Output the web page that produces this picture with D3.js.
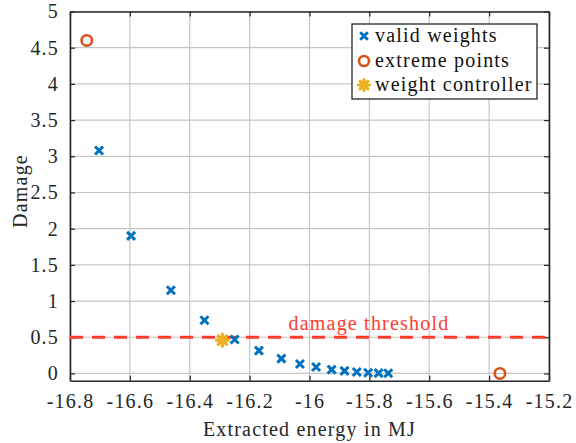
<!DOCTYPE html>
<html>
<head>
<meta charset="utf-8">
<script src="https://cdn.jsdelivr.net/npm/d3@7"></script>
<style>
  html, body { margin: 0; padding: 0; background: #fff; }
</style>
</head>
<body>
<svg id="chart" width="576" height="443"></svg>
<script>
// Pareto front of energy vs. damage for the valid weight combinations
const validEnergy = [-16.703, -16.596, -16.463, -16.351, -16.250, -16.169, -16.094, -16.032,
                     -15.978, -15.926, -15.883, -15.842, -15.804, -15.769, -15.737];
const validDamage = [3.08, 1.90, 1.15, 0.735, 0.47, 0.315, 0.205, 0.13,
                     0.09, 0.053, 0.035, 0.02, 0.01, 0.005, 0.003];
const extremeEnergy = [-16.744, -15.364];
const extremeDamage = [4.60, 0.0];
const controllerEnergy = [-16.291];
const controllerDamage = [0.46];
const damageThreshold = 0.5;
const xTicks = [-16.8, -16.6, -16.4, -16.2, -16, -15.8, -15.6, -15.4, -15.2];
const yTicks = [0, 0.5, 1, 1.5, 2, 2.5, 3, 3.5, 4, 4.5, 5];
const legendLabels = ["valid weights", "extreme points", "weight controller"];

const blue = "#0072BD", orange = "#D95319", yellow = "#EDB120", red = "#FF3B2E";
const FONT = "'Liberation Serif', 'Times New Roman', serif";
const ink = "#262626";

const svg = d3.select("#chart");
const plotL = 70, plotR = 549, plotT = 11.5, plotB = 380.7;

const x = d3.scaleLinear().domain([-16.8, -15.2]).range([plotL, plotR]);
const y = d3.scaleLinear().domain([-0.1, 5]).range([plotB, plotT]);

function serif(sel, size) {
  return sel.style("font-family", FONT).style("font-size", size + "px")
    .style("letter-spacing", "1.2px");
}

// grid
const grid = svg.append("g");
grid.selectAll("line.gx").data(xTicks).join("line")
  .attr("x1", d => x(d)).attr("x2", d => x(d)).attr("y1", plotT).attr("y2", plotB)
  .attr("stroke", "#c6c6c6").attr("stroke-width", 1.2);
grid.selectAll("line.gy").data(yTicks).join("line")
  .attr("y1", d => y(d)).attr("y2", d => y(d)).attr("x1", plotL).attr("x2", plotR)
  .attr("stroke", "#c6c6c6").attr("stroke-width", 1.2);

// axes with inward ticks on all four sides
const fmt = d => String(d);
const axB = svg.append("g").attr("transform", `translate(0,${plotB})`)
  .call(d3.axisBottom(x).tickValues(xTicks).tickSize(-5).tickSizeOuter(0).tickPadding(13).tickFormat(fmt));
const axT = svg.append("g").attr("transform", `translate(0,${plotT})`)
  .call(d3.axisTop(x).tickValues(xTicks).tickSize(-5).tickSizeOuter(0).tickFormat(""));
const axL = svg.append("g").attr("transform", `translate(${plotL},0)`)
  .call(d3.axisLeft(y).tickValues(yTicks).tickSize(-5).tickSizeOuter(0).tickPadding(11).tickFormat(fmt));
const axR = svg.append("g").attr("transform", `translate(${plotR},0)`)
  .call(d3.axisRight(y).tickValues(yTicks).tickSize(-5).tickSizeOuter(0).tickFormat(""));
[axB, axT, axL, axR].forEach(a => {
  a.selectAll("path.domain").attr("stroke", ink).attr("stroke-width", 1.6);
  a.selectAll(".tick line").attr("stroke", ink).attr("stroke-width", 1.2);
  serif(a.selectAll(".tick text"), 20).attr("fill", ink);
});

// threshold
svg.append("line")
  .attr("x1", plotL).attr("x2", plotR)
  .attr("y1", y(damageThreshold)).attr("y2", y(damageThreshold))
  .attr("stroke", red).attr("stroke-width", 3).attr("stroke-dasharray", "13,9");
serif(svg.append("text"), 20)
  .attr("x", x(-16.07)).attr("y", y(damageThreshold) - 7)
  .attr("fill", red).text("damage threshold");

// marker helpers
function cross(g, cx, cy, r, color) {
  g.append("path")
    .attr("d", `M${cx - r},${cy - r}L${cx + r},${cy + r}M${cx - r},${cy + r}L${cx + r},${cy - r}`)
    .attr("stroke", color).attr("stroke-width", 3).attr("fill", "none");
}
function star(g, cx, cy, r, color) {
  let d = "";
  for (let k = 0; k < 4; k++) {
    const a = k * Math.PI / 4;
    d += `M${cx - r * Math.cos(a)},${cy - r * Math.sin(a)}L${cx + r * Math.cos(a)},${cy + r * Math.sin(a)}`;
  }
  g.append("path").attr("d", d).attr("stroke", color).attr("stroke-width", 3.2)
    .attr("fill", "none").attr("stroke-linecap", "round");
  g.append("circle").attr("cx", cx).attr("cy", cy).attr("r", r * 0.65).attr("fill", color);
}
function ring(g, cx, cy, r, color) {
  g.append("circle").attr("cx", cx).attr("cy", cy).attr("r", r)
    .attr("fill", "none").attr("stroke", color).attr("stroke-width", 2.6);
}

const marks = svg.append("g");
validEnergy.forEach((e, i) => cross(marks, x(e), y(validDamage[i]), 4, blue));
extremeEnergy.forEach((e, i) => ring(marks, x(e), y(extremeDamage[i]), 5.2, orange));
controllerEnergy.forEach((e, i) => star(marks, x(e), y(controllerDamage[i]), 6, yellow));

// axis labels
serif(svg.append("text"), 20).attr("x", (plotL + plotR) / 2).attr("y", 436)
  .attr("text-anchor", "middle").attr("fill", ink).text("Extracted energy in MJ");
serif(svg.append("text"), 20).attr("transform", `translate(27,191) rotate(-90)`)
  .attr("text-anchor", "middle").attr("fill", ink).text("Damage");

// legend
const lg = svg.append("g").attr("transform", "translate(352,24)");
lg.append("rect").attr("width", 185).attr("height", 75)
  .attr("fill", "#fff").attr("stroke", ink).attr("stroke-width", 1.3);
const rows = [12, 37, 61];
cross(lg, 12, rows[0], 3.8, blue);
ring(lg, 12, rows[1], 5, orange);
star(lg, 12, rows[2], 5.5, yellow);
legendLabels.forEach((t, i) => {
  serif(lg.append("text"), 20).attr("x", 23).attr("y", rows[i] + 6)
    .attr("fill", "#111").text(t);
});
</script>
</body>
</html>
